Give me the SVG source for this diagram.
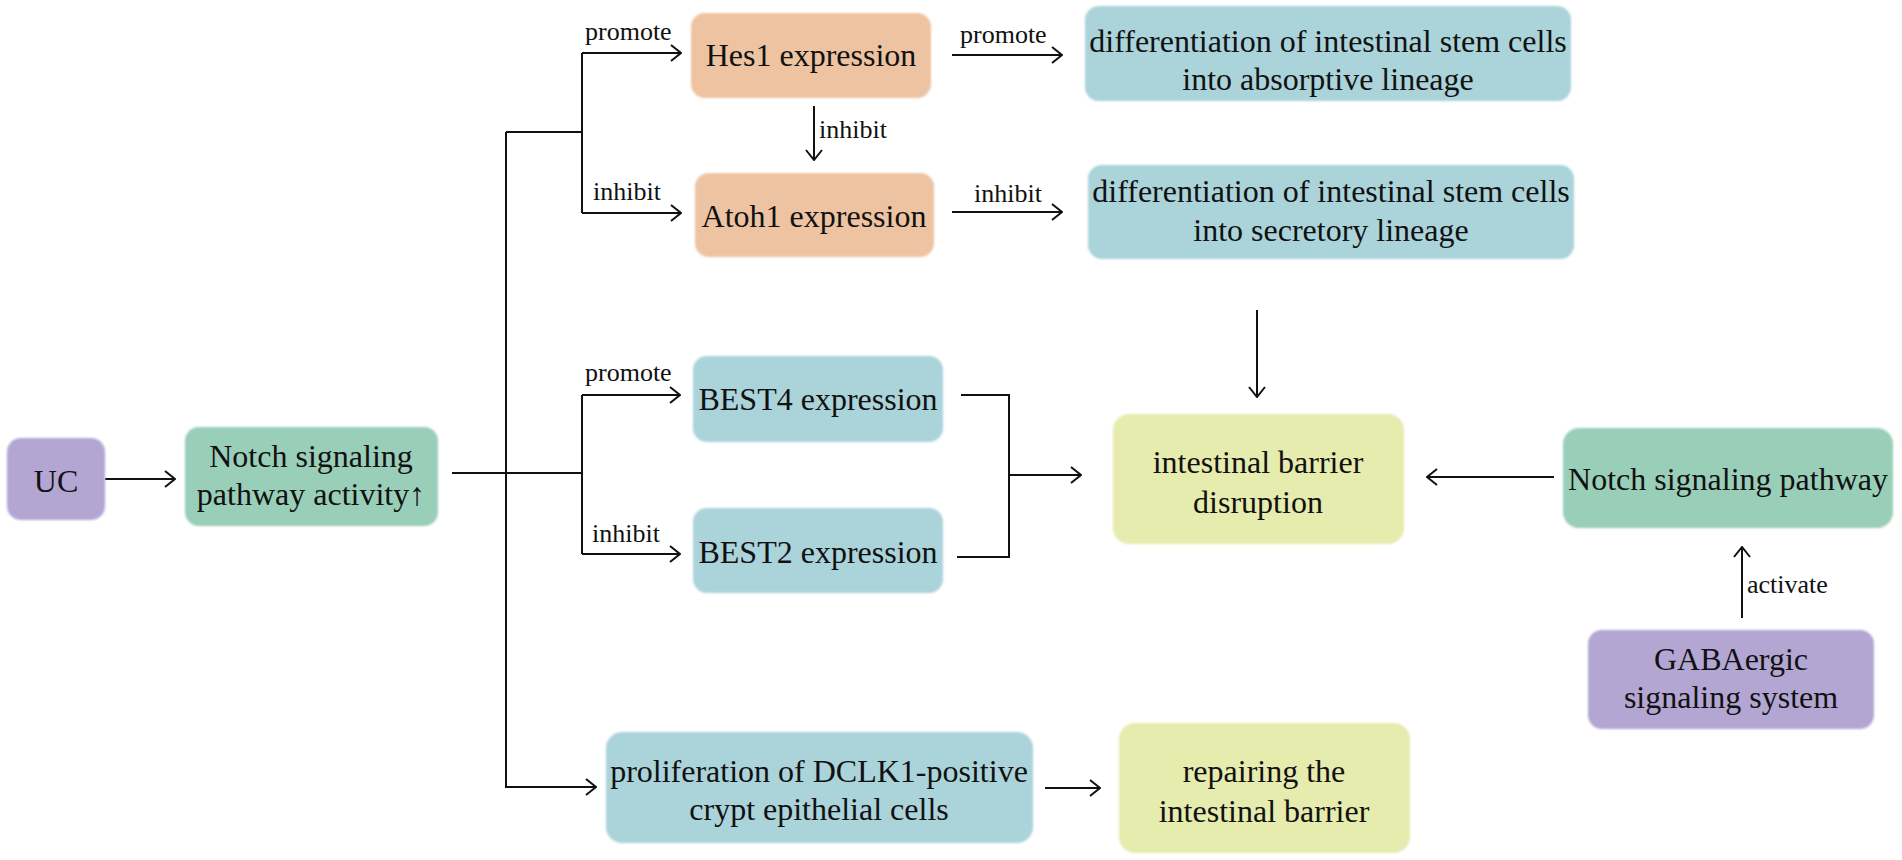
<svg xmlns="http://www.w3.org/2000/svg" width="1902" height="860" viewBox="0 0 1902 860">
<defs>
<marker id="arr" viewBox="0 0 12 18" refX="11" refY="9" markerWidth="12" markerHeight="18" markerUnits="userSpaceOnUse" orient="auto">
<path d="M1,1 L11,9 L1,17" fill="none" stroke="#111" stroke-width="2"/>
</marker>
<filter id="soft" x="-5%" y="-5%" width="110%" height="110%"><feGaussianBlur stdDeviation="1.2"/></filter>
</defs>
<style>
.box{filter:url(#soft)}
.peach{fill:#EDC3A2}
.blue{fill:#AAD3DA}
.green{fill:#99CEB9}
.purple{fill:#B3A6D3}
.yellow{fill:#E6EBAE}
.t{font-family:"Liberation Serif","Times New Roman","DejaVu Serif",serif;font-size:32px;fill:#111;text-anchor:middle}
.lbl{font-family:"Liberation Serif","Times New Roman","DejaVu Serif",serif;font-size:26px;fill:#111}
.c{fill:none;stroke:#111;stroke-width:2}
.a{marker-end:url(#arr)}
</style>
<rect width="1902" height="860" fill="#fff"/>

<g id="connectors">
<path class="c a" d="M105,479 H175"/>
<path class="c" d="M452,473 H582"/>
<path class="c a" d="M506,132 V787 H596"/>
<path class="c" d="M506,132 H582"/>
<path class="c" d="M582,53 V213"/>
<path class="c a" d="M582,53 H681"/>
<path class="c a" d="M582,213 H681"/>
<path class="c" d="M582,395 V554"/>
<path class="c a" d="M582,395 H680"/>
<path class="c a" d="M582,554 H680"/>
<path class="c a" d="M814,106 V160"/>
<path class="c a" d="M952,55 H1062"/>
<path class="c a" d="M952,212 H1062"/>
<path class="c a" d="M1257,310 V397"/>
<path class="c" d="M961,395 H1009 V557 H957"/>
<path class="c a" d="M1009,475 H1081"/>
<path class="c a" d="M1554,477 H1427"/>
<path class="c a" d="M1742,618 V547"/>
<path class="c a" d="M1045,788 H1100"/>
<text class="lbl" x="585" y="40">promote</text>
<text class="lbl" x="593" y="200">inhibit</text>
<text class="lbl" x="819" y="138">inhibit</text>
<text class="lbl" x="960" y="43">promote</text>
<text class="lbl" x="974" y="202">inhibit</text>
<text class="lbl" x="585" y="381">promote</text>
<text class="lbl" x="592" y="542">inhibit</text>
<text class="lbl" x="1747" y="593">activate</text>
</g>

<g id="uc"><rect class="box purple" x="7" y="438" width="98" height="82" rx="14"/><text class="t" x="56" y="492">UC</text></g>
<g id="notch-activity"><rect class="box green" x="185" y="427" width="253" height="99" rx="14"/><text class="t" x="311" y="467">Notch signaling</text><text class="t" x="311" y="505">pathway activity↑</text></g>
<g id="hes1"><rect class="box peach" x="691" y="13" width="240" height="85" rx="14"/><text class="t" x="811" y="66">Hes1 expression</text></g>
<g id="atoh1"><rect class="box peach" x="695" y="173" width="239" height="84" rx="14"/><text class="t" x="814" y="227">Atoh1 expression</text></g>
<g id="diff-absorptive"><rect class="box blue" x="1085" y="6" width="486" height="95" rx="14"/><text class="t" x="1328" y="52">differentiation of intestinal stem cells</text><text class="t" x="1328" y="90">into absorptive lineage</text></g>
<g id="diff-secretory"><rect class="box blue" x="1088" y="165" width="486" height="94" rx="14"/><text class="t" x="1331" y="202">differentiation of intestinal stem cells</text><text class="t" x="1331" y="241">into secretory lineage</text></g>
<g id="best4"><rect class="box blue" x="693" y="356" width="250" height="86" rx="14"/><text class="t" x="818" y="410">BEST4 expression</text></g>
<g id="best2"><rect class="box blue" x="693" y="508" width="250" height="85" rx="14"/><text class="t" x="818" y="563">BEST2 expression</text></g>
<g id="barrier-disruption"><rect class="box yellow" x="1113" y="414" width="291" height="130" rx="16"/><text class="t" x="1258" y="473">intestinal barrier</text><text class="t" x="1258" y="513">disruption</text></g>
<g id="notch-pathway"><rect class="box green" x="1563" y="428" width="330" height="100" rx="16"/><text class="t" x="1728" y="490">Notch signaling pathway</text></g>
<g id="gaba"><rect class="box purple" x="1588" y="630" width="286" height="99" rx="14"/><text class="t" x="1731" y="670">GABAergic</text><text class="t" x="1731" y="708">signaling system</text></g>
<g id="proliferation"><rect class="box blue" x="606" y="732" width="427" height="111" rx="16"/><text class="t" x="819" y="782">proliferation of DCLK1-positive</text><text class="t" x="819" y="820">crypt epithelial cells</text></g>
<g id="repair"><rect class="box yellow" x="1119" y="723" width="291" height="130" rx="16"/><text class="t" x="1264" y="782">repairing the</text><text class="t" x="1264" y="822">intestinal barrier</text></g>
</svg>
